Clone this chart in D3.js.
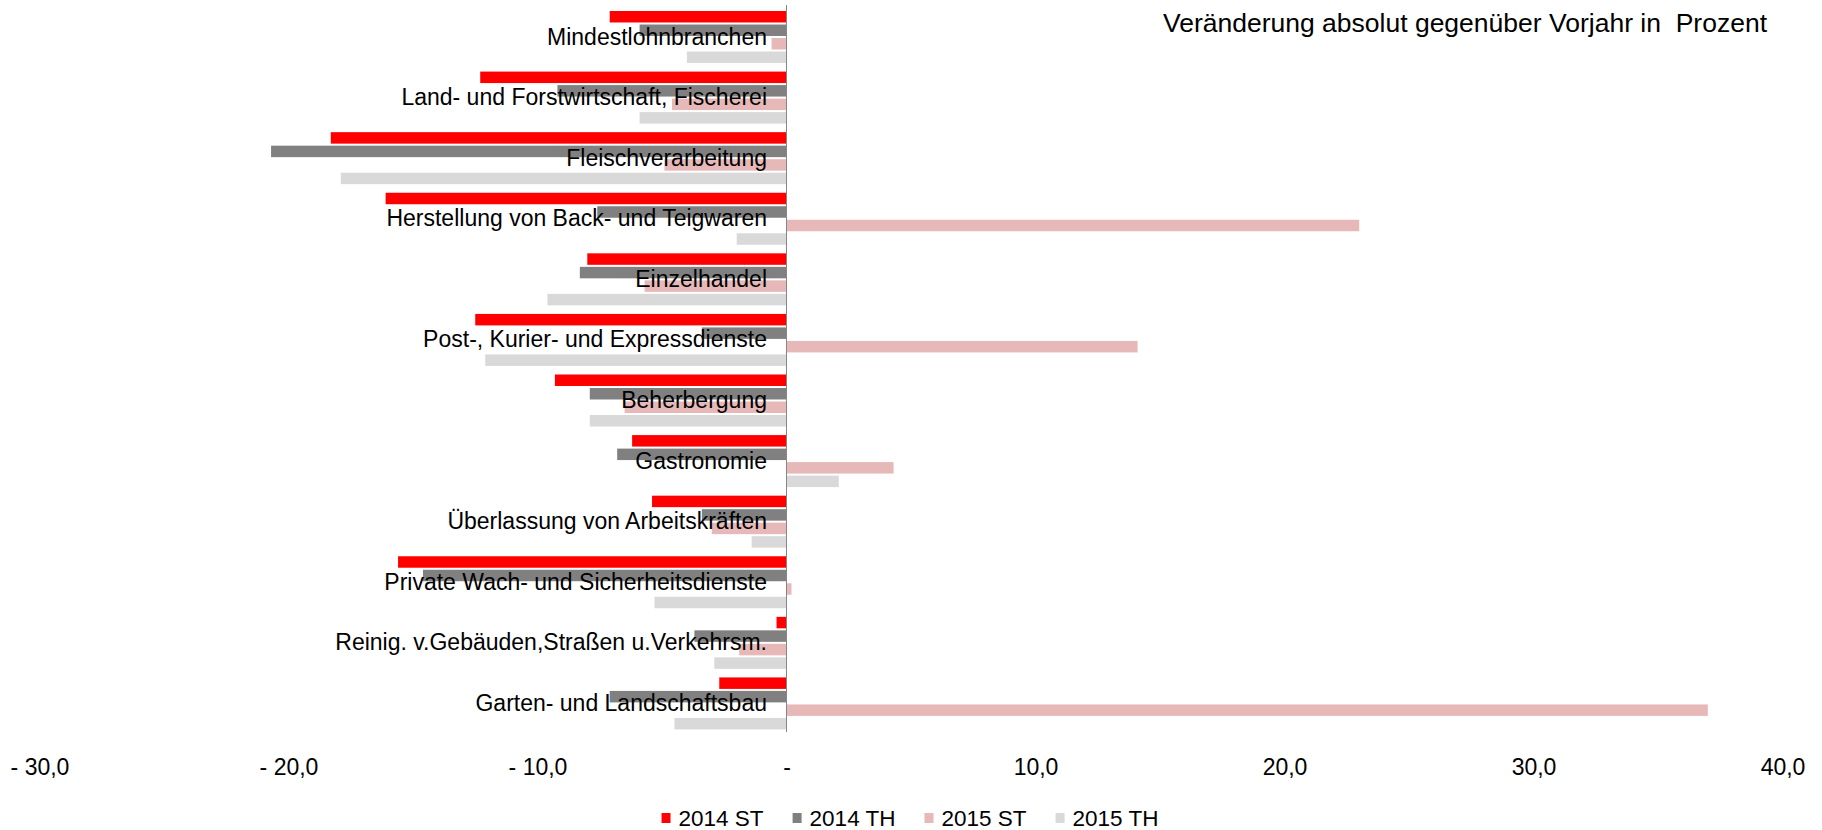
<!DOCTYPE html>
<html>
<head>
<meta charset="utf-8">
<script src="https://cdn.jsdelivr.net/npm/d3@7"></script>
<style>
  body { margin: 0; background: #fff; }
  text { font-family: "Liberation Sans", Arial, sans-serif; fill: #000; }
</style>
</head>
<body>
<div id="chart"></div>
<script>
// Branches (top to bottom)
const categories = [
    "Mindestlohnbranchen",
    "Land- und Forstwirtschaft, Fischerei",
    "Fleischverarbeitung",
    "Herstellung von Back- und Teigwaren",
    "Einzelhandel",
    "Post-, Kurier- und Expressdienste",
    "Beherbergung",
    "Gastronomie",
    "Überlassung von Arbeitskräften",
    "Private Wach- und Sicherheitsdienste",
    "Reinig. v.Gebäuden,Straßen u.Verkehrsm.",
    "Garten- und Landschaftsbau"
];

const seriesNames = ["2014 ST", "2014 TH", "2015 ST", "2015 TH"];
const seriesColors = ["#FF0000", "#808080", "#E6B9B8", "#D9D9D9"];

// Veränderung in Prozent
const values2014ST = [-7.1, -12.3, -18.3, -16.1, -8.0, -12.5, -9.3, -6.2, -5.4, -15.6, -0.4, -2.7];
const values2014TH = [-5.9, -9.2, -20.7, -7.6, -8.3, -3.4, -7.9, -6.8, -3.4, -14.6, -3.7, -7.1];
const values2015ST = [-0.6, -4.6, -4.9, 23.0, -5.7, 14.1, -6.5, 4.3, -3.0, 0.2, -1.9, 37.0];
const values2015TH = [-4.0, -5.9, -17.9, -2.0, -9.6, -12.1, -7.9, 2.1, -1.4, -5.3, -2.9, -4.5];

const tickValues = [-30, -20, -10, 0, 10, 20, 30, 40];
const titleText = "Veränderung absolut gegenüber Vorjahr in  Prozent";

const allSeries = [values2014ST, values2014TH, values2015ST, values2015TH];

const width = 1822, height = 830;

const svg = d3.select("#chart").append("svg")
    .attr("width", width)
    .attr("height", height);

const x = d3.scaleLinear().domain([-30, 40]).range([39.5, 1782.5]);
const y0 = d3.scaleBand().domain(categories).range([5, 732]);
const y1 = d3.scaleBand().domain(seriesNames).range([6, 58]).paddingInner(0.15);

// Flat table for the bars
const rows = [];
categories.forEach((c, i) => {
    seriesNames.forEach((s, j) => {
        rows.push({ cat: c, series: s, value: allSeries[j][i], color: seriesColors[j] });
    });
});

// bars
svg.append("g").selectAll("rect")
    .data(rows)
    .join("rect")
    .attr("x", d => x(Math.min(0, d.value)))
    .attr("y", d => y0(d.cat) + y1(d.series))
    .attr("width", d => Math.abs(x(d.value) - x(0)))
    .attr("height", y1.bandwidth())
    .attr("fill", d => d.color);

// vertical zero line
svg.append("line")
    .attr("x1", x(0)).attr("x2", x(0))
    .attr("y1", 5).attr("y2", 732)
    .attr("stroke", "#868686")
    .attr("stroke-width", 1);

// category labels, drawn over the bars
svg.append("g").selectAll("text")
    .data(categories)
    .join("text")
    .attr("x", 767)
    .attr("y", d => y0(d) + 39.5)
    .attr("text-anchor", "end")
    .style("font-size", "23px")
    .text(d => d);

// x axis labels (no line, no ticks)
const fmt = v => {
    if (v === 0) return "-";
    const s = Math.abs(v).toFixed(1).replace(".", ",");
    return v < 0 ? "- " + s : s;
};
const xAxis = d3.axisBottom(x).tickValues(tickValues).tickFormat(fmt).tickSize(0).tickPadding(0);
const axisG = svg.append("g")
    .attr("transform", "translate(0,757)")
    .call(xAxis);
axisG.select(".domain").remove();
axisG.selectAll("text")
    .attr("dy", 0)
    .attr("y", 18)
    .style("font-size", "23px")
    .style("font-family", "'Liberation Sans', Arial, sans-serif")
    .attr("fill", "#000");

// title in the upper right
svg.append("text")
    .attr("x", 1767)
    .attr("y", 32)
    .attr("text-anchor", "end")
    .style("font-size", "26.5px")
    .style("white-space", "pre")
    .attr("xml:space", "preserve")
    .text(titleText);

// legend
const legend = svg.append("g");
let lx = 0;
seriesNames.forEach((s, i) => {
    const item = legend.append("g").attr("transform", `translate(${lx},0)`);
    item.append("rect")
        .attr("x", 0).attr("y", -13)
        .attr("width", 9).attr("height", 10)
        .attr("fill", seriesColors[i]);
    const t = item.append("text")
        .attr("x", 17)
        .attr("y", 0)
        .style("font-size", "22.5px")
        .text(s);
    lx += 17 + t.node().getComputedTextLength() + 29;
});
const legendWidth = lx - 29;
legend.attr("transform", `translate(${910 - legendWidth / 2},826)`);
</script>
</body>
</html>
